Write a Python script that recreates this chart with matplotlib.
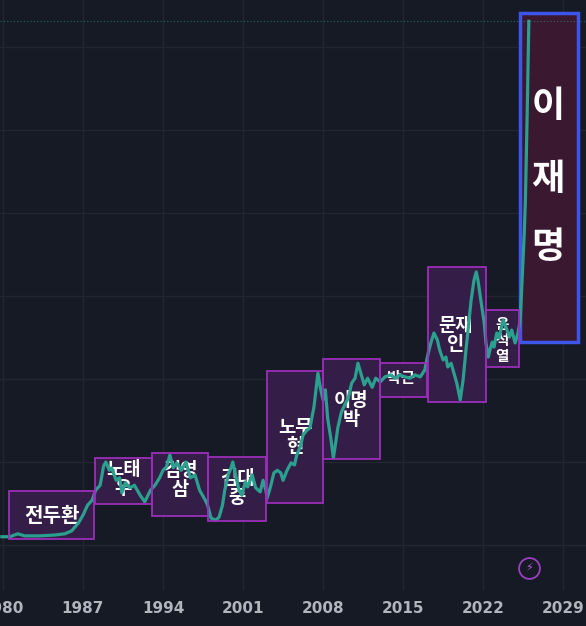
import matplotlib
matplotlib.use("Agg")
import matplotlib.pyplot as plt
from matplotlib.patches import Rectangle

# KOSPI-like index (year, level)
years = [1979.9, 1980.6, 1981.3, 1981.9, 1983.2, 1984.5, 1985.4, 1986.0, 1986.6, 1987.0,
         1987.4, 1987.8, 1988.1, 1988.5, 1988.8, 1989.0, 1989.3, 1989.5, 1989.9, 1990.2,
         1990.4, 1990.7, 1991.1, 1991.5, 1992.0, 1992.4, 1992.9, 1993.3, 1993.7, 1994.0,
         1994.3, 1994.6, 1994.9, 1995.2, 1995.6, 1996.0, 1996.4, 1996.8, 1997.2, 1997.7,
         1997.9, 1998.2, 1998.6, 1998.9, 1999.2, 1999.4, 1999.7, 1999.95, 2000.1, 2000.4,
         2000.65, 2000.9, 2001.2, 2001.4, 2001.8, 2002.1, 2002.5, 2002.75, 2003.0, 2003.1,
         2003.4, 2003.7, 2004.0, 2004.3, 2004.5, 2004.85, 2005.2, 2005.5, 2005.7, 2006.0,
         2006.25, 2006.6, 2006.85, 2007.2, 2007.4, 2007.55, 2007.75, 2008.0, 2008.2, 2008.4,
         2008.7, 2008.9, 2009.1, 2009.3, 2009.6, 2009.9, 2010.2, 2010.5, 2010.8, 2011.05,
         2011.3, 2011.6, 2011.9, 2012.3, 2012.6, 2013.0, 2013.4, 2013.9, 2014.3, 2014.7,
         2015.2, 2015.6, 2016.05, 2016.5, 2016.9, 2017.2, 2017.45, 2017.7, 2018.0, 2018.2,
         2018.5, 2018.75, 2018.9, 2019.2, 2019.45, 2019.7, 2020.0, 2020.25, 2020.5, 2020.75,
         2020.95, 2021.2, 2021.4, 2021.55, 2021.8, 2022.1, 2022.25, 2022.45, 2022.6, 2022.8,
         2022.95, 2023.2, 2023.4, 2023.55, 2023.75, 2024.0, 2024.3, 2024.5, 2024.8, 2025.05,
         2025.25, 2025.4, 2025.6, 2025.7, 2025.85, 2025.95, 2026.0]
levels = [100, 100, 135, 110, 110, 120, 135, 170, 265, 360,
          480, 540, 660, 720, 950, 1000, 900, 930, 780, 810,
          630, 750, 690, 720, 600, 520, 660, 720, 810, 900,
          940, 1085, 930, 990, 900, 1000, 810, 845, 660, 540,
          480, 325, 300, 335, 480, 660, 845, 930, 1000, 810,
          660, 600, 760, 700, 845, 690, 640, 780, 660, 565,
          700, 870, 900, 870, 780, 900, 990, 965, 1085, 1180,
          1325, 1385, 1410, 1660, 1890, 2070, 1900, 1750, 1870, 1530,
          1265, 1050, 1230, 1420, 1600, 1690, 1770, 1950, 2010, 2190,
          2070, 1930, 2010, 1900, 2010, 1965, 2025, 2050, 2010, 2050,
          2025, 2010, 2050, 2025, 2110, 2315, 2445, 2555, 2470, 2350,
          2230, 2265, 2145, 2190, 2070, 1950, 1750, 1990, 2350, 2675,
          2950, 3190, 3290, 3190, 2950, 2675, 2435, 2265, 2350, 2445,
          2385, 2555, 2495, 2590, 2710, 2625, 2505, 2590, 2435, 2555,
          2710, 3160, 3760, 4160, 5160, 5960, 6310]

# presidential terms: name, start, end, box low, box high
presidents = ["전두환", "노태\n우", "김영\n삼", "김대\n중", "노무\n현", "이명\n박", "박근", "문재\n인", "윤\n석\n열"]
term_start = [1980.5, 1988.05, 1993.05, 1997.95, 2003.1, 2008.0, 2013.0, 2017.15, 2022.25]
term_end = [1987.95, 1993.05, 1997.95, 2003.0, 2008.0, 2013.0, 2017.1, 2022.25, 2025.15]
box_low = [70, 495, 350, 290, 505, 1035, 1785, 1725, 2145]
box_high = [650, 1050, 1110, 1060, 2095, 2240, 2195, 3350, 2830]
label_x = [1984.3, 1990.5, 1995.5, 2000.5, 2005.55, 2010.45, 2014.8, 2019.6, 2023.65]
label_y = [360, 795, 785, 690, 1300, 1625, 2010, 2530, 2470]
label_size = [14.5, 13.5, 13.5, 13.5, 13.5, 13.5, 11, 13.5, 10.5]

lee_name = "이재명"
lee_start, lee_end = 2025.23, 2030.3
lee_low, lee_high = 2445, 6410
lee_char_y = [5280, 4400, 3590]

tick_years = [1980, 1987, 1994, 2001, 2008, 2015, 2022, 2029]
grid_levels = [0, 1000, 2000, 3000, 4000, 5000, 6000]

bg = "#161a25"
grid_c = "#222632"
line_c = "#2aa08e"
kr_font = ["Noto Sans CJK KR", "DejaVu Sans"]

fig = plt.figure(figsize=(5.86, 6.26), dpi=100, facecolor=bg)
ax = fig.add_axes([0, 36 / 626, 1, 590 / 626], facecolor=bg)
ax.set_xlim(1979.74, 2031.0)
ax.set_ylim(-542, 6567)
for s in ax.spines.values():
    s.set_visible(False)

for yr in tick_years:
    ax.axvline(yr, color=grid_c, lw=1, zorder=0)
for lv in grid_levels:
    ax.axhline(lv, color=grid_c, lw=1, zorder=0)

# term boxes
for i in range(len(presidents)):
    ax.add_patch(Rectangle((term_start[i], box_low[i]), term_end[i] - term_start[i],
                           box_high[i] - box_low[i], facecolor="#381f4d", alpha=0.9,
                           edgecolor="none", zorder=1))
    ax.add_patch(Rectangle((term_start[i], box_low[i]), term_end[i] - term_start[i],
                           box_high[i] - box_low[i], facecolor="none",
                           edgecolor="#9a2fb8", lw=1.3, zorder=4))
    ax.text(label_x[i], label_y[i], presidents[i], color="white", fontsize=label_size[i],
            fontweight="bold", family=kr_font, ha="center", va="center",
            linespacing=1.0, zorder=2)

ax.add_patch(Rectangle((lee_start, lee_low), lee_end - lee_start, lee_high - lee_low,
                       facecolor="#3a1830", edgecolor="#3d55e8", lw=2.5, zorder=1))
for ch, cy in zip(lee_name, lee_char_y):
    ax.text((lee_start + lee_end) / 2 - 0.1, cy, ch, color="white", fontsize=26,
            fontweight="bold", family=kr_font, ha="center", va="center", zorder=2)

# last price line
ax.axhline(levels[-1], color=line_c, lw=0.8, ls=(0, (1, 2)), alpha=0.6, zorder=2)

ax.plot(years, levels, color=line_c, lw=2.3, solid_joinstyle="round", zorder=3)

# small lightning badge
ax.plot([2026.0], [-280], marker="o", ms=15, mfc="none", mec="#9c3fc0", mew=1.3, zorder=5)
ax.text(2026.0, -280, "⚡", color="#b45ad6", fontsize=8, ha="center", va="center",
        family="DejaVu Sans", zorder=5)

ax.set_xticks(tick_years)
ax.set_xticklabels([str(y) for y in tick_years])
ax.set_yticks([])
ax.tick_params(axis="x", length=0, pad=8, labelsize=11, labelcolor="#b2b5be")
for t in ax.get_xticklabels():
    t.set_fontweight("bold")

fig.savefig("out.png", dpi=100, facecolor=bg)
